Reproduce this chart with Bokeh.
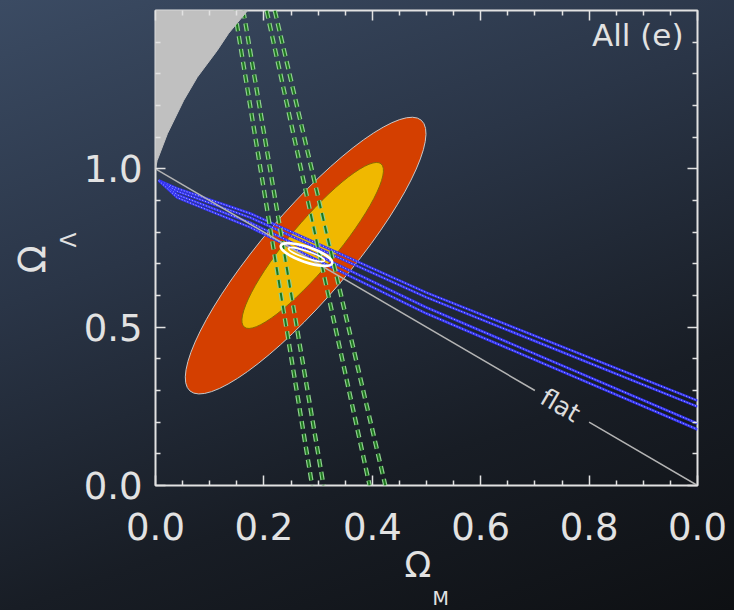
from bokeh.plotting import figure
from bokeh.models import FixedTicker, LinearAxis, Range1d, Label, ColumnDataSource, Title
from bokeh.embed import file_html
from bokeh.resources import INLINE

# ---------------- data ----------------
x_major = [0.0, 0.2, 0.4, 0.6, 0.8, 1.0]
x_labels = ["0.0", "0.2", "0.4", "0.6", "0.8", "0.0"]
x_minor = [0.05, 0.1, 0.15, 0.25, 0.3, 0.35, 0.45, 0.5, 0.55, 0.65, 0.7, 0.75,
           0.85, 0.9, 0.95]
y_major = [0.0, 0.5, 1.0]
y_labels = ["0.0", "0.5", "1.0"]
y_minor = [0.1, 0.2, 0.3, 0.4, 0.6, 0.7, 0.8, 0.9, 1.1, 1.2, 1.3, 1.4]

# "no big bang" region boundary
nbb_om = [0.0, 0.003, 0.022, 0.052, 0.077, 0.114, 0.135, 0.170]
nbb_ol = [1.0, 1.026, 1.111, 1.216, 1.289, 1.374, 1.428, 1.5]

# flat-universe line (two pieces, gap for the label)
flat_a_om = [0.0, 0.70]
flat_a_ol = [1.0, 0.30]
flat_b_om = [0.80, 1.0]
flat_b_ol = [0.20, 0.0]

# blue bands: four contour edges
blue_om = [0.006, 0.04, 0.175, 0.5, 1.0]
blue_u1 = [0.963, 0.938, 0.859, 0.609, 0.268]
blue_u2 = [0.963, 0.929, 0.846, 0.594, 0.249]
blue_l1 = [0.963, 0.918, 0.830, 0.562, 0.196]
blue_l2 = [0.963, 0.909, 0.815, 0.543, 0.177]

# green dashed bands (Omega_M at Omega_L = 1.5 and 0.0)
green_ol = [1.5, 0.0]
green_l1 = [0.146, 0.289]
green_l2 = [0.162, 0.310]
green_r1 = [0.205, 0.395]
green_r2 = [0.220, 0.424]

# filled confidence ellipses: centre, full axes (data units), tilt
ell_om = [0.277, 0.290]
ell_ol = [0.726, 0.758]
ell_w = [0.657, 0.393]
ell_h = [0.278, 0.149]
ell_ang = [0.864, 0.873]

# joint (white) contours
joint_om = [0.2786, 0.2786]
joint_ol = [0.7294, 0.7294]
joint_w = [0.100, 0.070]
joint_h = [0.048, 0.022]
joint_ang = [-0.33, -0.33]

# ---------------- figure ----------------
FG = "#e2e2e2"
p = figure(width=734, height=610, x_range=Range1d(0, 1), y_range=Range1d(0, 1.5),
           output_backend="svg", toolbar_location=None,
           min_border_left=155, min_border_right=37, min_border_top=10,
           min_border_bottom=125)
p.grid.visible = False
p.background_fill_color = None
p.border_fill_color = None
p.outline_line_color = FG
p.outline_line_width = 2
p.styles = {"background": "linear-gradient(160deg, #3b4b63 0%, #2a3547 35%, #181d25 70%, #0e1013 100%)"}


def style_axis(ax, major, minor, standoff):
    ax.ticker = FixedTicker(ticks=major, minor_ticks=minor)
    ax.axis_line_color = None
    ax.major_tick_in = 10
    ax.major_tick_out = 0
    ax.minor_tick_in = 5
    ax.minor_tick_out = 0
    ax.major_tick_line_color = FG
    ax.minor_tick_line_color = FG
    ax.major_tick_line_width = 1.5
    ax.minor_tick_line_width = 1.5
    ax.major_label_text_font = "DejaVu Sans"
    ax.major_label_text_font_size = "37px"
    ax.major_label_text_color = FG
    ax.major_label_standoff = standoff


def tick_only_axis(ticks, length):
    ax = LinearAxis(ticker=FixedTicker(ticks=[], minor_ticks=ticks))
    ax.axis_line_color = None
    ax.major_tick_line_color = None
    ax.major_label_standoff = 0
    ax.minor_tick_in = length
    ax.minor_tick_out = 0
    ax.minor_tick_line_color = FG
    ax.minor_tick_line_width = 1.5
    return ax


xa = p.xaxis[0]
style_axis(xa, x_major, x_minor, 27)
xa.major_label_overrides = {v: s for v, s in zip(x_major, x_labels)}
ya = p.yaxis[0]
style_axis(ya, y_major, y_minor, 13)
ya.major_label_overrides = {v: s for v, s in zip(y_major, y_labels)}

# mirrored ticks on the top and right frame edges
p.add_layout(tick_only_axis(x_major, 10), "above")
p.add_layout(tick_only_axis(x_minor, 5), "above")
p.add_layout(tick_only_axis(y_major, 10), "right")
p.add_layout(tick_only_axis(y_minor, 5), "right")


# axis titles (Omega with subscripts)
def title(text, size, offset):
    return Title(text=text, align="left", offset=offset, standoff=0,
                 text_font="DejaVu Sans", text_font_size=size,
                 text_font_style="normal", text_color=FG)


p.add_layout(title("Ω", "35px", 249), "below")
p.add_layout(title("M", "19px", 277), "below")
p.add_layout(title("Λ", "22px", 238), "left")
p.add_layout(title("Ω", "37px", 212), "left")

# ---------------- marks ----------------
ell_src = ColumnDataSource(dict(x=ell_om, y=ell_ol, w=ell_w, h=ell_h, a=ell_ang,
                                fill=["#d43f00", "#f0b800"],
                                line=["#c8c8c8", "#8a6a00"]))
p.ellipse(x="x", y="y", width="w", height="h", angle="a", source=ell_src,
          fill_color="fill", line_color="line", line_width=1)

for ys in (blue_u1, blue_u2, blue_l1, blue_l2):
    p.line(blue_om, ys, line_color="#3434f4", line_width=2.6)
    p.line(blue_om, ys, line_color="#b8bcff", line_width=1, line_dash="1 2")

for xs in (green_l1, green_l2, green_r1, green_r2):
    p.line(xs, green_ol, line_color="#8fd08f", line_width=4.4, line_dash="8 5")
    p.line(xs, green_ol, line_color="#1c761c", line_width=2, line_dash="8 5")

p.line(flat_a_om, flat_a_ol, line_color="#b4b4b4", line_width=1.5)
p.line(flat_b_om, flat_b_ol, line_color="#b4b4b4", line_width=1.5)

joint_src = ColumnDataSource(dict(x=joint_om, y=joint_ol, w=joint_w, h=joint_h,
                                  a=joint_ang, lw=[2.6, 1.6]))
p.ellipse(x="x", y="y", width="w", height="h", angle="a", source=joint_src,
          fill_color=None, line_color="white", line_width="lw")

p.patch(nbb_om + [0.0], nbb_ol + [1.5], fill_color="#c0c0c0", line_color="#c0c0c0")

# ---------------- texts ----------------
p.add_layout(Label(x=0.747, y=0.253, text="flat", angle=-0.529, text_align="center",
                   text_baseline="middle", text_font="DejaVu Sans",
                   text_font_size="25px", text_color="#dcdcdc"))
p.add_layout(Label(x=528, y=451, x_units="screen", y_units="screen", text="All (e)",
                   text_align="right", text_baseline="alphabetic",
                   text_font="DejaVu Sans", text_font_size="31px", text_color=FG))

open("out.html", "w").write(file_html(p, INLINE))
